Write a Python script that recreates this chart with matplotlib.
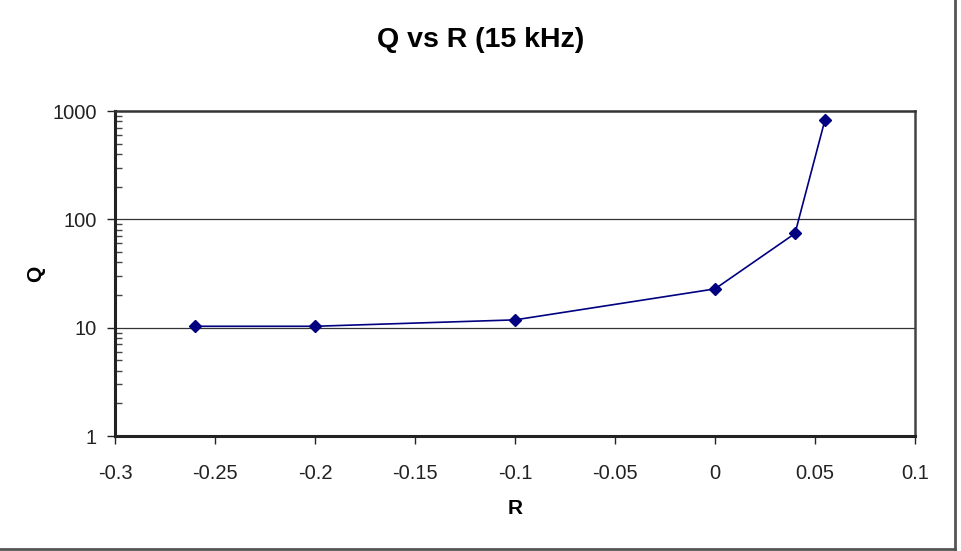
import matplotlib.pyplot as plt
from matplotlib.ticker import LogLocator, NullFormatter
from matplotlib.lines import Line2D

# data
r_values = [-0.26, -0.2, -0.1, 0.0, 0.04, 0.055]
q_values = [10.3, 10.3, 11.8, 22.8, 74.0, 830.0]
x_ticks = [-0.3, -0.25, -0.2, -0.15, -0.1, -0.05, 0, 0.05, 0.1]
x_labels = ["-0.3", "-0.25", "-0.2", "-0.15", "-0.1", "-0.05", "0", "0.05", "0.1"]
y_ticks = [1, 10, 100, 1000]
y_labels = ["1", "10", "100", "1000"]

plt.rcParams['font.family'] = ['Liberation Sans', 'DejaVu Sans']

fig = plt.figure(figsize=(9.62, 5.51), dpi=100)
ax = fig.add_axes([115 / 962, 1 - 436 / 551, 800 / 962, 325 / 551])

ax.plot(r_values, q_values, color='#000080', linewidth=1.2,
        marker='D', markersize=6, markerfacecolor='#000080',
        markeredgecolor='#000080')

ax.set_yscale('log')
ax.set_xlim(-0.3, 0.1)
ax.set_ylim(1, 1000)

ax.set_xticks(x_ticks)
ax.set_xticklabels(x_labels)
ax.set_yticks(y_ticks)
ax.set_yticklabels(y_labels)
ax.yaxis.set_minor_locator(LogLocator(base=10, subs=range(2, 10)))
ax.yaxis.set_minor_formatter(NullFormatter())

ax.tick_params(axis='both', which='major', direction='out', length=6,
               width=1, labelsize=14.5, colors='#222222')
ax.tick_params(axis='x', pad=14)
ax.tick_params(axis='y', pad=7)
ax.tick_params(axis='y', which='minor', direction='in', length=5, width=1,
               color='#444444')
ax.tick_params(axis='x', which='minor', length=0)

for y in [10, 100]:
    ax.axhline(y, color='#333333', linewidth=0.9, zorder=0)

ax.spines['left'].set_linewidth(2.2)
ax.spines['bottom'].set_linewidth(2.2)
ax.spines['left'].set_color('#222222')
ax.spines['bottom'].set_color('#222222')
ax.spines['top'].set_linewidth(1.8)
ax.spines['right'].set_linewidth(1.8)
ax.spines['top'].set_color('#333333')
ax.spines['right'].set_color('#444444')

ax.set_xlabel("R", fontsize=15, fontweight='bold', labelpad=12)
ax.set_ylabel("Q", fontsize=15, fontweight='bold', labelpad=5)

fig.text(0.5, 1 - 40 / 551, "Q vs R (15 kHz)", ha='center', va='center',
         fontsize=20.5, fontweight='bold',
         family=['Liberation Sans Narrow', 'Liberation Sans', 'DejaVu Sans'])

# outer chart border (right and bottom visible in the reference)
fig.add_artist(Line2D([955 / 962, 955 / 962], [1 - 549 / 551, 1.0],
                      transform=fig.transFigure, color='#555555', linewidth=2))
fig.add_artist(Line2D([0, 955 / 962], [1 - 549 / 551, 1 - 549 / 551],
                      transform=fig.transFigure, color='#555555', linewidth=2))

fig.savefig("out.png", dpi=100)
